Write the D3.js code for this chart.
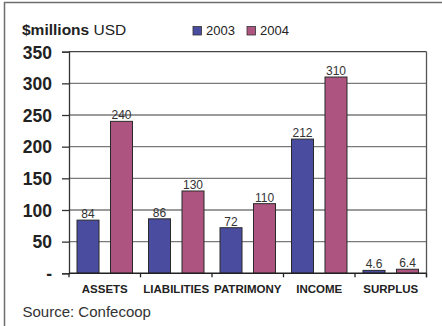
<!DOCTYPE html>
<html>
<head>
<meta charset="utf-8">
<script src="https://cdn.jsdelivr.net/npm/d3@7"></script>
<style>
  html, body { margin: 0; padding: 0; background: #fff; }
  svg { display: block; font-family: "Liberation Sans", Arial, sans-serif; }
</style>
</head>
<body>
<svg id="chart" width="442" height="326"></svg>
<script>
// Cooperative sector figures, $millions USD
const categories = ["ASSETS", "LIABILITIES", "PATRIMONY", "INCOME", "SURPLUS"];
const seriesNames = ["2003", "2004"];
const values2003 = [84, 86, 72, 212, 4.6];
const values2004 = [240, 130, 110, 310, 6.4];
const valueLabels2003 = ["84", "86", "72", "212", "4.6"];
const valueLabels2004 = ["240", "130", "110", "310", "6.4"];
const yTicks = [0, 50, 100, 150, 200, 250, 300, 350];
const yTickLabels = ["-", "50", "100", "150", "200", "250", "300", "350"];
const colors = ["#4a4d9f", "#ad5580"];

const seriesValues = [values2003, values2004];
const seriesLabels = [valueLabels2003, valueLabels2004];

const svg = d3.select("#chart");

// Outer frame: top and left edges
svg.append("path")
  .attr("d", "M4.5,326 V2.5 H442")
  .attr("fill", "none")
  .attr("stroke", "#6e6e6e")
  .attr("stroke-width", 1.5);

const plot = { left: 69, right: 426.5, top: 51.7, bottom: 273.3 };

const x = d3.scaleBand().domain(categories).range([plot.left, plot.right]).padding(0);
const xInner = d3.scaleBand().domain(seriesNames).range([0, x.bandwidth()])
  .paddingInner(0.343).paddingOuter(0.239);
const y = d3.scaleLinear().domain([0, 350]).range([plot.bottom, plot.top]);

// Gridlines
svg.append("g").selectAll("line")
  .data(yTicks.filter(d => d > 0))
  .join("line")
  .attr("x1", plot.left).attr("x2", plot.right)
  .attr("y1", d => y(d)).attr("y2", d => y(d))
  .attr("stroke", d => (d === 350 ? "#444" : "#7a7a7a"))
  .attr("stroke-width", 1.3);

// Right edge of plot area
svg.append("line")
  .attr("x1", plot.right).attr("x2", plot.right)
  .attr("y1", plot.top).attr("y2", plot.bottom + 4)
  .attr("stroke", "#555").attr("stroke-width", 1.3);

// Y axis
const yAxis = d3.axisLeft(y).tickValues(yTicks)
  .tickFormat((d, i) => yTickLabels[i]).tickSize(7).tickPadding(10);
const gy = svg.append("g").attr("transform", `translate(${plot.left},0)`).call(yAxis);
gy.select(".domain").attr("stroke", "#333").attr("stroke-width", 1.3);
gy.selectAll(".tick line").attr("stroke", "#333").attr("stroke-width", 1.3);
gy.selectAll(".tick text")
  .attr("font-family", "Liberation Sans, Arial, sans-serif")
  .attr("font-size", "17.5px").attr("font-weight", "bold").attr("fill", "#222")
  .attr("dy", "0.36em");

// Bars
const groups = svg.append("g").selectAll("g")
  .data(categories)
  .join("g")
  .attr("transform", d => `translate(${x(d)},0)`);

seriesNames.forEach((s, si) => {
  groups.append("rect")
    .attr("x", xInner(s))
    .attr("width", xInner.bandwidth())
    .attr("y", (d, i) => y(seriesValues[si][i]))
    .attr("height", (d, i) => y(0) - y(seriesValues[si][i]))
    .attr("fill", colors[si])
    .attr("stroke", "#2a2a2a")
    .attr("stroke-width", 1);

  groups.append("text")
    .attr("x", xInner(s) + xInner.bandwidth() / 2)
    .attr("y", (d, i) => y(seriesValues[si][i]) - 2)
    .attr("text-anchor", "middle")
    .attr("font-size", "12px")
    .attr("fill", "#333")
    .text((d, i) => seriesLabels[si][i]);
});

// X axis with ticks at category boundaries
const boundaries = categories.map(c => x(c)).concat([plot.right]);
svg.append("line")
  .attr("x1", plot.left).attr("x2", plot.right)
  .attr("y1", plot.bottom).attr("y2", plot.bottom)
  .attr("stroke", "#222").attr("stroke-width", 1.4);
svg.append("g").selectAll("line")
  .data(boundaries)
  .join("line")
  .attr("x1", d => d).attr("x2", d => d)
  .attr("y1", plot.bottom).attr("y2", plot.bottom + 4)
  .attr("stroke", "#222").attr("stroke-width", 1.3);

svg.append("g").selectAll("text")
  .data(categories)
  .join("text")
  .attr("x", d => x(d) + x.bandwidth() / 2)
  .attr("y", 292.7)
  .attr("text-anchor", "middle")
  .attr("font-size", "11.5px")
  .attr("font-weight", "bold")
  .attr("fill", "#222")
  .text(d => d);

// Title
const title = svg.append("text").attr("x", 22).attr("y", 35)
  .attr("font-size", "15.5px").attr("fill", "#222");
title.append("tspan").attr("font-weight", "bold").text("$millions");
title.append("tspan").text(" USD");

// Legend
const legendX = [193, 247];
seriesNames.forEach((s, si) => {
  svg.append("rect")
    .attr("x", legendX[si]).attr("y", 26.5)
    .attr("width", 8.5).attr("height", 8.5)
    .attr("fill", colors[si]).attr("stroke", "#333").attr("stroke-width", 0.8);
  svg.append("text")
    .attr("x", legendX[si] + 13).attr("y", 35)
    .attr("font-size", "13px").attr("fill", "#222")
    .text(s);
});

// Source note
svg.append("text").attr("x", 22.5).attr("y", 316.5)
  .attr("font-size", "15px").attr("fill", "#333")
  .text("Source: Confecoop");
</script>
</body>
</html>
